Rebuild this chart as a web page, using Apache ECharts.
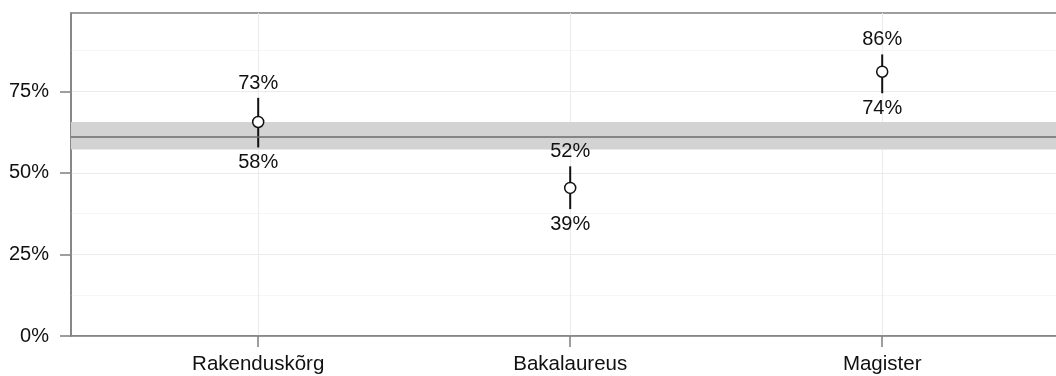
<!DOCTYPE html>
<html>
<head>
<meta charset="utf-8">
<script src="https://cdn.jsdelivr.net/npm/echarts@6/dist/echarts.min.js"></script>
<style>
  html, body { margin: 0; padding: 0; background: #fff; overflow: hidden; }
  #chart { width: 1056px; height: 376px; }
</style>
</head>
<body>
<div id="chart"></div>
<script>
// Share with 95% interval per study level, plus the overall average band
const categories = ['Rakenduskõrg', 'Bakalaureus', 'Magister'];
const estimate = [0.656, 0.454, 0.810];
const lower = [0.578, 0.389, 0.744];
const upper = [0.730, 0.520, 0.863];

const overall = 0.613;
const overallLow = 0.572;
const overallHigh = 0.656;

const yTicks = [0, 0.25, 0.5, 0.75];
const yMax = 0.99;

const FONT = "'Liberation Sans', Arial, sans-serif";
const AXIS_GREY = '#7f7f7f';
const pct = v => Math.round(v * 100) + '%';

const positions = categories.map((_, i) => i + 1);
const pointData = positions.map((x, i) => [x, estimate[i]]);
const barData = positions.map((x, i) => [x, lower[i], upper[i]]);

const chart = echarts.init(document.getElementById('chart'), null, { renderer: 'canvas' });

chart.setOption({
  animation: false,
  backgroundColor: '#ffffff',
  grid: {
    // panel runs past the right edge of the canvas
    left: 71, top: 13, height: 323, width: 998.4,
    outerBoundsMode: 'none',
    containLabel: false,
    show: true, borderColor: AXIS_GREY, borderWidth: 1.5, backgroundColor: 'transparent'
  },
  xAxis: {
    type: 'value',
    min: 0.4,
    max: 3.6,
    axisLine: { show: true, lineStyle: { color: AXIS_GREY, width: 1.5 } },
    axisTick: { show: true, customValues: positions, length: 11, lineStyle: { color: AXIS_GREY, width: 1.5 } },
    axisLabel: {
      customValues: positions,
      formatter: v => categories[Math.round(v) - 1] || '',
      color: '#111', fontSize: 20.5, fontFamily: FONT, margin: 18
    },
    splitLine: { show: true, lineStyle: { color: '#ebebeb', width: 1 } }
  },
  yAxis: {
    type: 'value',
    min: 0,
    max: yMax,
    interval: 0.25,
    axisLine: { show: true, lineStyle: { color: AXIS_GREY, width: 1.5 } },
    axisTick: { show: true, customValues: yTicks, length: 11, lineStyle: { color: AXIS_GREY, width: 1.5 } },
    axisLabel: {
      customValues: yTicks,
      formatter: v => pct(v),
      color: '#111', fontSize: 20, fontFamily: FONT, margin: 22,
      padding: [3, 0, 0, 0]
    },
    splitLine: { show: true, lineStyle: { color: '#ebebeb', width: 1 } },
    minorTick: { show: false, splitNumber: 2 },
    minorSplitLine: { show: true, lineStyle: { color: '#f5f5f5', width: 1 } }
  },
  series: [
    {
      // overall average: shaded interval and centre line
      type: 'line',
      data: [],
      silent: true,
      z: 1,
      markArea: {
        silent: true,
        itemStyle: { color: '#d3d3d3' },
        data: [[{ yAxis: overallLow }, { yAxis: overallHigh }]]
      },
      markLine: {
        silent: true,
        symbol: 'none',
        label: { show: false },
        lineStyle: { color: '#6b6b6b', width: 1.5, type: 'solid' },
        data: [{ yAxis: overall }]
      }
    },
    {
      // interval bars with their end labels
      type: 'custom',
      z: 3,
      data: barData,
      renderItem: (params, api) => {
        const x = api.value(0), lo = api.value(1), hi = api.value(2);
        const pLo = api.coord([x, lo]);
        const pHi = api.coord([x, hi]);
        const textStyle = { fill: '#111', fontSize: 20, fontFamily: FONT, align: 'center', verticalAlign: 'middle' };
        return {
          type: 'group',
          children: [
            { type: 'line', shape: { x1: pLo[0], y1: pLo[1], x2: pHi[0], y2: pHi[1] },
              style: { stroke: '#111', lineWidth: 2 } },
            { type: 'text', x: pHi[0], y: pHi[1] - 14.5, style: Object.assign({ text: pct(hi) }, textStyle) },
            { type: 'text', x: pLo[0], y: pLo[1] + 15, style: Object.assign({ text: pct(lo) }, textStyle) }
          ]
        };
      }
    },
    {
      type: 'scatter',
      z: 4,
      data: pointData,
      symbol: 'circle',
      symbolSize: 11,
      itemStyle: { color: '#ffffff', borderColor: '#111', borderWidth: 1.5, opacity: 1 }
    }
  ]
});
</script>
</body>
</html>
